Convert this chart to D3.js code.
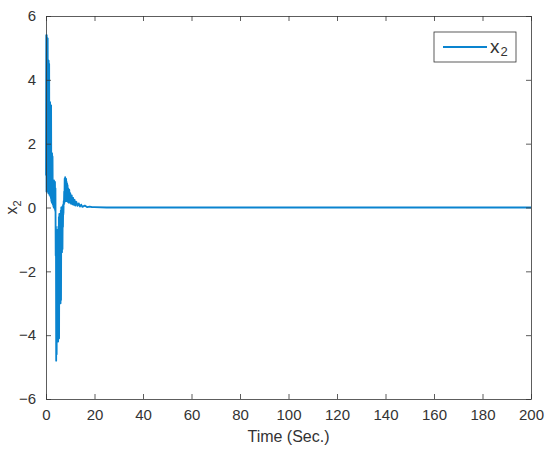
<!DOCTYPE html>
<html>
<head>
<meta charset="utf-8">
<script src="https://cdn.jsdelivr.net/npm/d3@7"></script>
<style>
  html, body { margin: 0; padding: 0; background: #fff; }
  text { font-family: "Liberation Sans", Arial, Helvetica, sans-serif; }
</style>
</head>
<body>
<svg id="chart" width="550" height="452"></svg>
<script>
// ---- data ----
const timeSec = [
  0.0, 0.1, 0.2, 0.3, 0.4, 0.5, 0.6, 0.7, 0.8, 0.9,
  1.0, 1.1, 1.2, 1.3, 1.4, 1.5, 1.6, 1.7, 1.8, 1.9,
  2.0, 2.1, 2.2, 2.3, 2.4, 2.5, 2.6, 2.7, 2.8, 2.9,
  3.0, 3.1, 3.2, 3.3, 3.4, 3.5, 3.6, 3.7, 3.8, 3.9,
  4.0, 4.1, 4.2, 4.3, 4.4, 4.5, 4.6, 4.7, 4.8, 4.9,
  5.0, 5.1, 5.2, 5.3, 5.4, 5.5, 5.6, 5.7, 5.8, 5.9,
  6.0, 6.1, 6.2, 6.3, 6.4, 6.5, 6.6, 6.7, 6.8, 6.9,
  7.0, 7.1, 7.2, 7.3, 7.4, 7.5, 7.6, 7.7, 7.8, 7.9,
  8.0, 8.1, 8.2, 8.3, 8.4, 8.5, 8.6, 8.7, 8.8, 8.9,
  9.0, 9.2, 9.4, 9.6, 9.8, 10.0, 10.3, 10.6, 10.9, 11.2,
  11.5, 11.8, 12.1, 12.5, 13.0, 13.5, 14.0, 14.5, 15.0, 16.0,
  17.0, 18.0, 19.0, 20.0, 25, 50, 100, 150, 200
];
const x2Values = [
  1.0, 5.4, 0.5, 5.4, 0.5, 5.3, 0.5, 5.3, 0.5, 4.6,
  0.45, 4.6, 0.45, 4.5, 0.4, 3.3, 0.4, 3.3, 0.35, 3.2,
  0.3, 3.2, 0.2, 1.7, 0.15, 1.7, 0.15, 1.6, 0.1, 0.85,
  0.05, 0.85, 0.0, 0.85, 0.0, 0.8, -0.05, 0.8, -0.1, 0.6,
  -1.5, -0.6, -4.8, -0.7, -4.6, -0.7, -4.2, -0.7, -4.2, -0.7,
  -4.2, -0.6, -4.1, -0.3, -4.1, -0.2, -3.0, -0.2, -3.0, -0.2,
  -3.0, -0.1, -2.9, 0.0, -1.4, 0.0, -1.4, 0.0, -1.3, 0.05,
  -0.6, 0.1, -0.2, 0.2, 0.1, 0.5, 0.15, 0.9, 0.2, 0.95,
  0.2, 0.9, 0.2, 0.9, 0.2, 0.8, 0.2, 0.75, 0.2, 0.7,
  0.18, 0.6, 0.15, 0.55, 0.15, 0.45, 0.12, 0.38, 0.1, 0.3,
  0.08, 0.24, 0.06, 0.18, 0.05, 0.13, 0.03, 0.09, 0.02, 0.06,
  0.01, 0.03, 0.01, 0.01, 0.0, 0.0, 0.0, 0.0, 0.0
];
const xTicks = [0, 20, 40, 60, 80, 100, 120, 140, 160, 180, 200];
const yTicks = [-6, -4, -2, 0, 2, 4, 6];
const seriesName = "x";
const seriesSub = "2";
const xLabel = "Time (Sec.)";

// ---- layout ----
const svg = d3.select("#chart");
const L = 46, R = 531, T = 16, B = 399;
const axisColor = "#333333";
const lineColor = "#0a84cf";

const x = d3.scaleLinear().domain([0, 200]).range([L, R]);
const y = d3.scaleLinear().domain([-6, 6]).range([B, T]);

svg.append("rect").attr("width", 550).attr("height", 452).attr("fill", "#fff");

// data line
const data = timeSec.map((t, i) => ({ t, v: x2Values[i] }));
svg.append("path")
  .datum(data)
  .attr("fill", "none")
  .attr("stroke", lineColor)
  .attr("stroke-width", 1.8)
  .attr("stroke-linejoin", "round")
  .attr("d", d3.line().x(d => x(d.t)).y(d => y(d.v)));

// axes (MATLAB style: ticks inward, box)
const tickLen = 5;
const fmt = d3.format("");
const xAxisB = d3.axisBottom(x).tickValues(xTicks).tickSizeInner(-tickLen).tickSizeOuter(0).tickPadding(10).tickFormat(fmt);
const xAxisT = d3.axisTop(x).tickValues(xTicks).tickSizeInner(-tickLen).tickSizeOuter(0).tickFormat("");
const yAxisL = d3.axisLeft(y).tickValues(yTicks).tickSizeInner(-tickLen).tickSizeOuter(0).tickPadding(10).tickFormat(fmt);
const yAxisR = d3.axisRight(y).tickValues(yTicks).tickSizeInner(-tickLen).tickSizeOuter(0).tickFormat("");

function styleAxis(g) {
  g.select(".domain").attr("stroke", axisColor).attr("stroke-width", 0.8);
  g.selectAll(".tick line").attr("stroke", axisColor).attr("stroke-width", 0.8);
  g.selectAll(".tick text").attr("fill", axisColor).style("font-size", "15px")
    .style("font-family", "'Liberation Sans', Arial, Helvetica, sans-serif");
}

svg.append("g").attr("transform", `translate(0,${B})`).call(xAxisB).call(styleAxis);
svg.append("g").attr("transform", `translate(0,${T})`).call(xAxisT).call(styleAxis);
svg.append("g").attr("transform", `translate(${L},0)`).call(yAxisL).call(styleAxis);
svg.append("g").attr("transform", `translate(${R},0)`).call(yAxisR).call(styleAxis);

// x label
svg.append("text")
  .attr("x", (L + R) / 2).attr("y", 442)
  .attr("text-anchor", "middle")
  .attr("fill", axisColor)
  .style("font-size", "16px")
  .text(xLabel);

// y label (x with subscript 2), rotated
const yl = svg.append("text")
  .attr("transform", `translate(17,${(T + B) / 2}) rotate(-90)`)
  .attr("text-anchor", "middle")
  .attr("fill", axisColor)
  .style("font-size", "16px");
yl.append("tspan").text(seriesName);
yl.append("tspan").attr("dy", 4).style("font-size", "11px").text(seriesSub);

// legend
const lg = svg.append("g");
lg.append("rect")
  .attr("x", 434).attr("y", 32).attr("width", 82).attr("height", 30)
  .attr("fill", "#fff").attr("stroke", axisColor).attr("stroke-width", 0.8);
lg.append("line")
  .attr("x1", 443).attr("x2", 487).attr("y1", 47).attr("y2", 47)
  .attr("stroke", lineColor).attr("stroke-width", 1.8);
const lt = lg.append("text")
  .attr("x", 490).attr("y", 53)
  .attr("fill", axisColor)
  .style("font-size", "19px");
lt.append("tspan").text(seriesName);
lt.append("tspan").attr("dy", 3).attr("dx", 1).style("font-size", "13px").text(seriesSub);
</script>
</body>
</html>
